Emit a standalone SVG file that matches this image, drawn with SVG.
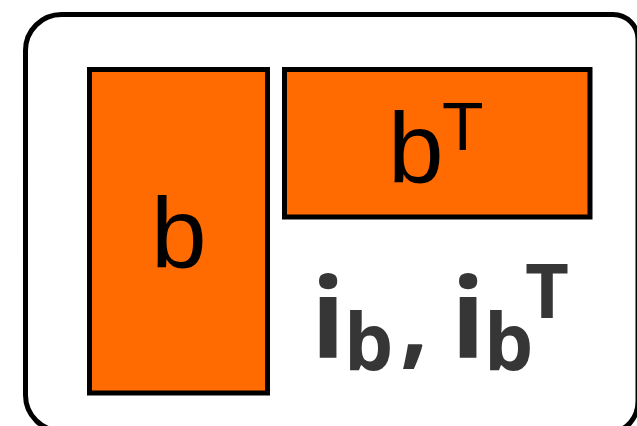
<svg xmlns="http://www.w3.org/2000/svg" width="637" height="426" viewBox="0 0 637 426">
<style>
.box{fill:#FF6B00;stroke:#000;stroke-width:5}
.lt{font-family:"Liberation Sans",Arial,sans-serif;fill:#000}
.bd{font-family:"Open Sans",sans-serif;font-weight:700;fill:#363636}
</style>
<rect width="637" height="426" fill="#fff"/>
<g id="frame">
<path d="M62,14.5 H613 A25,25 0 0 1 638,39.5 V401 A25,30 0 0 1 613,431 H62 A36,36 0 0 1 25.5,395 V50.5 A36,36 0 0 1 62,14.5 Z" fill="none" stroke="#000" stroke-width="5"/>
</g>
<g id="node-b">
<rect class="box" x="89.5" y="69.5" width="178" height="323.5"/>
<text class="lt" x="151" y="268" font-size="100">b</text>
</g>
<g id="node-bT">
<rect class="box" x="284.5" y="69.5" width="305.5" height="147.5"/>
<text class="lt" x="388" y="183" font-size="100">b<tspan x="442" y="150" font-size="68">T</tspan></text>
</g>
<g id="label">
<text class="bd" x="311" y="358" font-size="112">i<tspan x="344" y="370" font-size="78">b</tspan><tspan x="400" y="356" font-size="100">,</tspan><tspan x="451" y="358" font-size="112">i</tspan><tspan x="484" y="370" font-size="78">b</tspan><tspan x="525" y="318" font-size="76">T</tspan></text>
</g>
<g id="connectors"/>
</svg>
